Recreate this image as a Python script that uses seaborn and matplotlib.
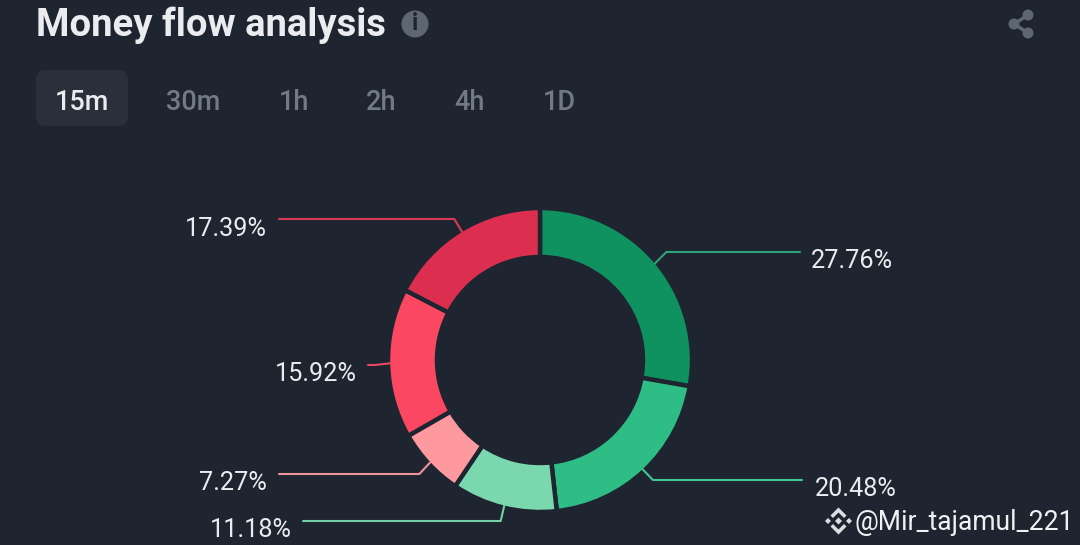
import numpy as np
import seaborn as sns
import matplotlib
matplotlib.use("Agg")
import matplotlib.pyplot as plt
from matplotlib.patches import FancyBboxPatch, Circle, Polygon

# data
labels = ["27.76%", "20.48%", "11.18%", "7.27%", "15.92%", "17.39%"]
values = [27.76, 20.48, 11.18, 7.27, 15.92, 17.39]
colors = ["#0f9160", "#2ebd85", "#7bd8ae", "#ff99a0", "#fc4763", "#dc2f50"]
line_colors = ["#2fa37a", "#45c596", "#72cfa6", "#f0929a", "#e8485f", "#d93a58"]
tabs = ["15m", "30m", "1h", "2h", "4h", "1D"]
tab_x = [82, 193, 294, 381, 469, 559]

# label layout in pixels
line_end_x = [800, 802, 303, 279, 368, 279]
elbow_y = [252, 480, 521, 474, 365, 219]
text_xy = [(811, 261.5), (815, 488.5), (210, 530), (199, 483.5), (275, 374), (185, 228.5)]

BG = "#1e2530"
W, H = 1080, 545
CX, CY, R, R_IN = 540, 360, 152, 103

sns.set_theme(style="dark", rc={"figure.facecolor": BG, "axes.facecolor": BG})
plt.rcParams["font.family"] = ["Roboto", "DejaVu Sans"]

fig = plt.figure(figsize=(W / 100, H / 100), dpi=100, facecolor=BG)
ax = fig.add_axes([0, 0, 1, 1])
ax.set_facecolor(BG)


def Y(y):
    return H - y


palette = sns.color_palette(colors)
ax.pie(values, colors=palette, startangle=90, counterclock=False,
       center=(CX, Y(CY)), radius=R, frame=False,
       wedgeprops=dict(width=R - R_IN, edgecolor=BG, linewidth=3.2))
ax.set_xlim(0, W)
ax.set_ylim(0, H)
ax.set_aspect("equal")
ax.axis("off")

# leader lines follow each slice's mid angle
cum = np.cumsum([0] + values)
total = sum(values)
for i, lab in enumerate(labels):
    a = np.deg2rad((cum[i] + values[i] / 2) / total * 360)
    sx, sy = np.sin(a), np.cos(a)
    p0 = (CX + 150 * sx, Y(CY) + 150 * sy)
    ey = Y(elbow_y[i])
    ex = CX + 165 * sx
    ax.plot([p0[0], ex, line_end_x[i]], [p0[1], ey, ey],
            color=line_colors[i], lw=1.5, solid_joinstyle="round")
    tx, ty = text_xy[i]
    ax.text(tx, Y(ty), lab, color="#eaecef", fontsize=18.2, ha="left", va="center")

# header
ax.text(36, Y(25), "Money flow analysis", color="#eaecef", fontsize=27.5,
        fontweight="bold", va="center", ha="left")
ax.add_patch(Circle((415, Y(24)), 13.5, color="#5e6673", lw=0))
ax.text(415, Y(24), "i", color=BG, fontsize=17, fontweight="bold",
        ha="center", va="center")

# tabs
ax.add_patch(FancyBboxPatch((36, Y(126)), 92, 56,
                            boxstyle="round,pad=0,rounding_size=10",
                            fc="#2a303b", ec="none"))
for i, (t, x) in enumerate(zip(tabs, tab_x)):
    ax.text(x, Y(102), t, color="#eaecef" if i == 0 else "#727a88",
            fontsize=19.5, fontweight="medium", ha="center", va="center")

# share icon
share = [(1028, 15), (1014, 24), (1028, 33)]
ax.plot([p[0] for p in share], [Y(p[1]) for p in share], color="#5e6673", lw=2.5)
for px, py in share:
    ax.add_patch(Circle((px, Y(py)), 5.5, color="#5e6673", lw=0))

# watermark logo
LX, LY = 838.5, Y(521)
logo_shapes = [
    [(0, 13.5), (8, 5.5), (5.5, 3), (0, 8.5), (-5.5, 3), (-8, 5.5)],
    [(0, -13.5), (8, -5.5), (5.5, -3), (0, -8.5), (-5.5, -3), (-8, -5.5)],
    [(0, 3.5), (3.5, 0), (0, -3.5), (-3.5, 0)],
    [(-13.5, 0), (-10.5, 3), (-7.5, 0), (-10.5, -3)],
    [(13.5, 0), (10.5, 3), (7.5, 0), (10.5, -3)],
]
for shape in logo_shapes:
    ax.add_patch(Polygon([(LX + a, LY + b) for a, b in shape], color="#dcdee2", lw=0))
ax.text(855, Y(522), "@Mir_tajamul_221", color="#f0f1f3", fontsize=19.1,
        ha="left", va="center")

fig.savefig("out.png", dpi=100, facecolor=BG)
